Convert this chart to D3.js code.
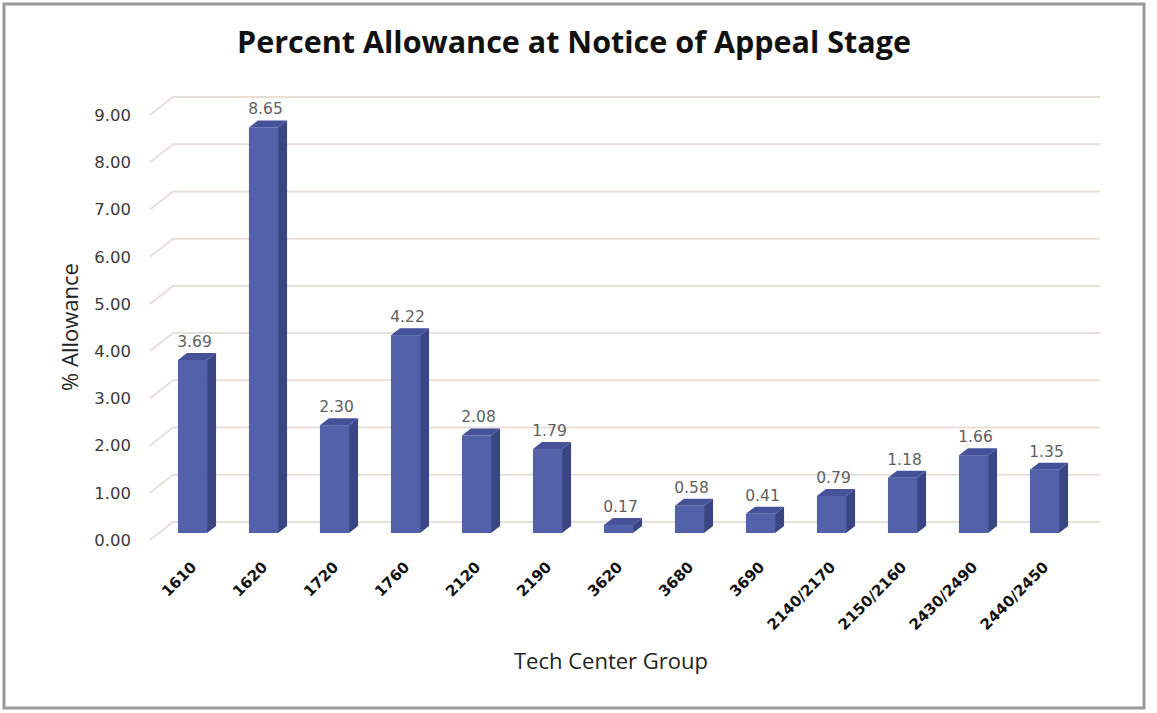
<!DOCTYPE html>
<html>
<head>
<meta charset="utf-8">
<script src="https://cdn.jsdelivr.net/npm/d3@7/dist/d3.min.js"></script>
<style>
  html, body { margin: 0; padding: 0; background: #fff; }
  svg { display: block; }
</style>
</head>
<body>
<svg id="chart" width="1157" height="713"></svg>
<script>
const categories = ["1610","1620","1720","1760","2120","2190","3620","3680","3690","2140/2170","2150/2160","2430/2490","2440/2450"];
const values = [3.69, 8.65, 2.30, 4.22, 2.08, 1.79, 0.17, 0.58, 0.41, 0.79, 1.18, 1.66, 1.35];
const yTicks = [0, 1, 2, 3, 4, 5, 6, 7, 8, 9];
const titleText = "Percent Allowance at Notice of Appeal Stage";
const xTitle = "Tech Center Group";
const yTitle = "% Allowance";

const svg = d3.select("#chart");

// frame
svg.append("rect").attr("x", 4).attr("y", 4).attr("width", 1140).attr("height", 704)
  .attr("fill", "#fff").attr("stroke", "#9a9a9a").attr("stroke-width", 3);

// scales
const x = d3.scaleBand().domain(categories).range([157, 1080]).paddingInner(0.59).paddingOuter(0.295);
const yAxisScale = d3.scaleLinear().domain([0, 9]).range([540, 115]);
const yBar = d3.scaleLinear().domain([0, 9]).range([533, 111]);
const depthX = 23, depthY = 18;     // wall depth
const bDx = 9, bDy = 7;             // bar depth
const wallLeft = 150, wallRight = 1100;

// gridlines (floor + back wall)
const grid = svg.append("g");
yTicks.forEach(t => {
  const yf = yAxisScale(t);
  grid.append("path")
    .attr("d", `M${wallLeft},${yf} L${wallLeft + depthX},${yf - depthY} L${wallRight},${yf - depthY}`)
    .attr("fill", "none").attr("stroke", "#e9dfd9").attr("stroke-width", 2);
});

// y tick labels
svg.append("g").selectAll("text").data(yTicks).join("text")
  .attr("x", 131).attr("y", d => yAxisScale(d)).attr("dy", "0.36em")
  .attr("text-anchor", "end")
  .attr("font-family", "DejaVu Sans, sans-serif").attr("font-size", 16.5)
  .attr("fill", "#3a3a3a")
  .text(d => d3.format(".2f")(d));

// bars
const bars = svg.append("g").selectAll("g").data(categories).join("g");
bars.each(function(c, i) {
  const g = d3.select(this);
  const x0 = x(c), w = x.bandwidth();
  const y0 = yBar(0), y1 = yBar(values[i]);
  // side
  g.append("path")
    .attr("d", `M${x0 + w},${y1} L${x0 + w + bDx},${y1 - bDy} L${x0 + w + bDx},${y0 - bDy} L${x0 + w},${y0} Z`)
    .attr("fill", "#3a4583");
  // top
  g.append("path")
    .attr("d", `M${x0},${y1} L${x0 + bDx},${y1 - bDy} L${x0 + w + bDx},${y1 - bDy} L${x0 + w},${y1} Z`)
    .attr("fill", "#45529a");
  // front
  g.append("rect").attr("x", x0).attr("y", y1).attr("width", w).attr("height", y0 - y1)
    .attr("fill", "#5261aa");
  // value label
  g.append("text")
    .attr("x", x0 + w / 2 + 2).attr("y", y1 - 13)
    .attr("text-anchor", "middle")
    .attr("font-family", "DejaVu Sans, sans-serif").attr("font-size", 15.5)
    .attr("fill", "#5f5f5f")
    .text(d3.format(".2f")(values[i]));
});

// x labels
svg.append("g").selectAll("text").data(categories).join("text")
  .attr("transform", d => `translate(${x(d) + x.bandwidth() / 2 + 5},${568}) rotate(-45)`)
  .attr("text-anchor", "end")
  .attr("font-family", "DejaVu Sans, sans-serif").attr("font-weight", "bold").attr("font-size", 15)
  .attr("fill", "#111")
  .text(d => d);

// title
svg.append("text")
  .attr("x", 574).attr("y", 53)
  .attr("text-anchor", "middle")
  .attr("font-family", "Open Sans, sans-serif").attr("font-weight", "bold").attr("font-size", 31)
  .attr("textLength", 674).attr("lengthAdjust", "spacingAndGlyphs")
  .attr("fill", "#111")
  .text(titleText);

// axis titles
svg.append("text")
  .attr("x", 611).attr("y", 669)
  .attr("text-anchor", "middle")
  .attr("font-family", "Open Sans, sans-serif").attr("font-size", 22)
  .attr("fill", "#222")
  .text(xTitle);

svg.append("text")
  .attr("transform", "translate(78,327) rotate(-90)")
  .attr("text-anchor", "middle")
  .attr("font-family", "Open Sans, sans-serif").attr("font-size", 22)
  .attr("fill", "#222")
  .text(yTitle);
</script>
</body>
</html>
